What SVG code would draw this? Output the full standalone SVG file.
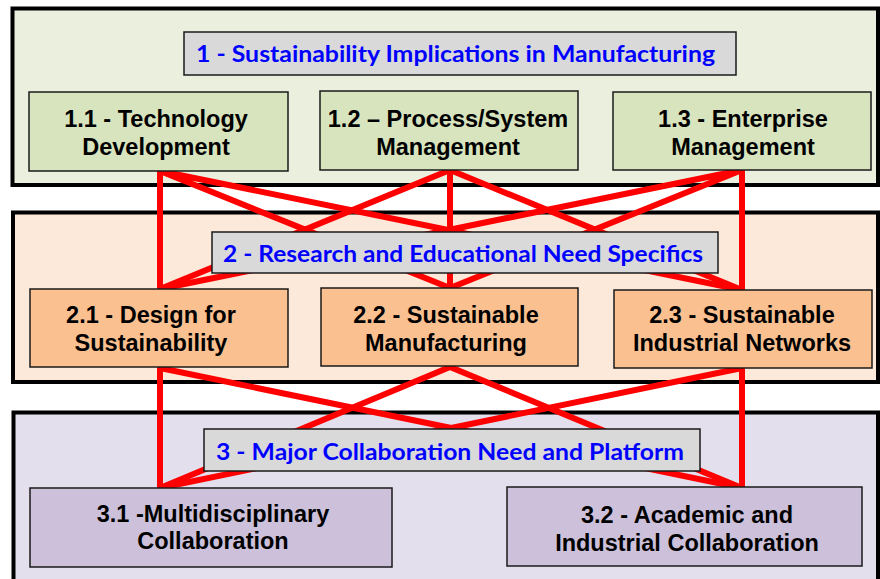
<svg xmlns="http://www.w3.org/2000/svg" width="880" height="579" viewBox="0 0 880 579">
  <style>
    .panel { stroke: #000; stroke-width: 4; }
    .p1 { fill: #ebf0de; }
    .p2 { fill: #fde9d9; }
    .p3 { fill: #e4dfec; }
    .node { stroke: #1a1a1a; stroke-width: 1.5; }
    .n1 { fill: #d7e4bd; }
    .n2 { fill: #fac090; }
    .n3 { fill: #ccc0da; }
    .title rect { fill: #d9d9d9; stroke: #1a1a1a; stroke-width: 1.5; }
    .title text { font-family: Lato, "Open Sans", sans-serif; font-weight: bold; font-size: 22px; fill: #0000ff; }
    .label { font-family: "Liberation Sans", Arial, sans-serif; font-weight: bold; font-size: 23.5px; fill: #000; text-anchor: middle; }
    .links path { fill: none; stroke: #ff0000; stroke-width: 6; stroke-linejoin: miter; stroke-linecap: butt; }
  </style>

  <!-- tier backgrounds -->
  <g id="panel-1"><rect class="panel p1" x="12.5" y="8.5" width="865.5" height="176.5"/></g>
  <g id="panel-2"><rect class="panel p2" x="13" y="212.5" width="865" height="169.5"/></g>
  <g id="panel-3"><rect class="panel p3" x="13.5" y="412.5" width="864.5" height="180"/></g>

  <!-- connections between tiers: each source fans out to every target -->
  <g id="connectors" class="links">
    <path d="M160 289 L160 171 L450 288 M160 171 L742 290"/>
    <path d="M160 289 L450 170 L450 288 M450 170 L742 290"/>
    <path d="M160 289 L742 170 L742 290 M742 170 L450 288"/>

    <path d="M160 488 L160 368 L742 488"/>
    <path d="M160 488 L450 367 L742 488"/>
    <path d="M160 488 L742 368 L742 488"/>
  </g>

  <!-- tier 1 -->
  <g id="title-1" class="title">
    <rect x="184" y="32" width="552" height="43"/>
    <text x="196" y="62" textLength="519" lengthAdjust="spacingAndGlyphs">1 - Sustainability Implications in Manufacturing</text>
  </g>
  <g id="node-1-1">
    <rect class="node n1" x="29" y="92" width="259" height="79"/>
    <text class="label" x="156" y="127">1.1 - Technology</text>
    <text class="label" x="156" y="155">Development</text>
  </g>
  <g id="node-1-2">
    <rect class="node n1" x="320" y="91" width="258" height="79"/>
    <text class="label" x="448" y="127">1.2 – Process/System</text>
    <text class="label" x="448" y="155">Management</text>
  </g>
  <g id="node-1-3">
    <rect class="node n1" x="613" y="92" width="258" height="78"/>
    <text class="label" x="743" y="127">1.3 - Enterprise</text>
    <text class="label" x="743" y="155">Management</text>
  </g>

  <!-- tier 2 -->
  <g id="title-2" class="title">
    <rect x="212" y="232" width="506" height="41"/>
    <text x="223" y="262" textLength="480" lengthAdjust="spacingAndGlyphs">2 - Research and Educational Need Specifics</text>
  </g>
  <g id="node-2-1">
    <rect class="node n2" x="30" y="289" width="258" height="78"/>
    <text class="label" x="151" y="323">2.1 - Design for</text>
    <text class="label" x="151" y="351">Sustainability</text>
  </g>
  <g id="node-2-2">
    <rect class="node n2" x="321" y="288" width="257" height="78"/>
    <text class="label" x="446" y="323">2.2 - Sustainable</text>
    <text class="label" x="446" y="351">Manufacturing</text>
  </g>
  <g id="node-2-3">
    <rect class="node n2" x="614" y="290" width="258" height="78"/>
    <text class="label" x="742" y="323">2.3 - Sustainable</text>
    <text class="label" x="742" y="351">Industrial Networks</text>
  </g>

  <!-- tier 3 -->
  <g id="title-3" class="title">
    <rect x="204" y="429" width="496" height="42"/>
    <text x="216" y="460" textLength="468" lengthAdjust="spacingAndGlyphs">3 - Major Collaboration Need and Platform</text>
  </g>
  <g id="node-3-1">
    <rect class="node n3" x="30" y="488" width="362" height="79"/>
    <text class="label" x="213" y="522">3.1 -Multidisciplinary</text>
    <text class="label" x="213" y="549">Collaboration</text>
  </g>
  <g id="node-3-2">
    <rect class="node n3" x="507" y="487" width="355" height="79"/>
    <text class="label" x="687" y="523">3.2 - Academic and</text>
    <text class="label" x="687" y="551">Industrial Collaboration</text>
  </g>
</svg>
